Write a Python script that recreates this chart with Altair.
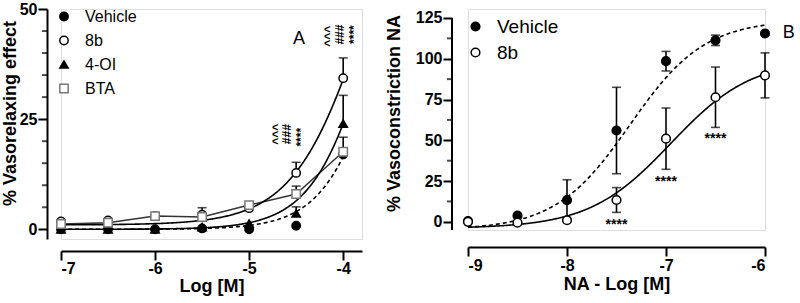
import altair as alt
import pandas as pd

FONT = "Liberation Sans"

# ---------------- Panel A data ----------------
X_A = [-7, -6.5, -6, -5.5, -5, -4.5, -4]
SERIES_A = ["Vehicle", "8b", "4-OI", "BTA"]
VEH_A = [0.0, 0.0, 0.0, 0.2, 0.0, 0.8, 17.0]
VEH_A_ERR = [0, 0, 0, 0, 0, 0, 0]
B8_A = [1.8, 2.0, 3.0, 3.3, 4.8, 12.8, 34.3]
B8_A_ERR = [0, 0, 0, 1.6, 0, 2.4, 4.6]
OI_A = [0.0, 0.0, 0.0, 0.5, 1.3, 3.6, 24.0]
OI_A_ERR = [0, 0, 0, 0, 0, 1.5, 6.4]
BTA_A = [1.2, 1.5, 3.0, 2.8, 5.5, 8.0, 17.6]
BTA_A_ERR = [0, 0, 0, 0, 0, 1.8, 3.3]

# fitted curve parameters (bottom, top, logEC50, hill)
FIT_A = {
    "Vehicle": (0.0, 100.0, -3.478, 1.35),
    "8b": (1.0, 100.0, -3.731, 1.118),
    "4-OI": (0.0, 100.0, -3.619, 1.316),
}
DASH_A = {"Vehicle": [4, 3], "8b": [1, 0], "4-OI": [1, 0]}

ANN_A_X = [-4.70, -4.60, -4.45, -4.15, -4.03, -3.88]
ANN_A_Y = [21.6, 21.6, 20.9, 43.8, 44.2, 44.2]
ANN_A_TEXT = ["^^^", "###", "****", "^^^", "###", "****"]

MAJOR_A = [0, 25, 50]
MINOR_A = [5, 10, 15, 20, 30, 35, 40, 45]
XTICKS_A = [-7, -6, -5, -4]

# ---------------- Panel B data ----------------
X_B = [-9, -8.5, -8, -7.5, -7, -6.5, -6]
SERIES_B = ["Vehicle", "8b"]
VEH_B = [0.5, 3.8, 13.3, 56.0, 98.5, 111.3, 115.5]
VEH_B_ERR = [0, 0, 12.5, 26.5, 6.0, 3.2, 0]
B8_B = [0.0, -0.5, 1.0, 13.4, 51.0, 76.4, 89.8]
B8_B_ERR = [0, 0, 0, 7.6, 18.8, 18.5, 13.8]

FIT_B = {
    "Vehicle": (-5.0, 124.0, -7.364, 1.152),
    "8b": (-4.0, 100.0, -6.953, 1.054),
}
DASH_B = {"Vehicle": [4, 3], "8b": [1, 0]}

ANN_B_X = [-7.5, -7.0, -6.5]
ANN_B_Y = [-2.0, 24.5, 51.0]
ANN_B_TEXT = ["****", "****", "****"]

MAJOR_B = [0, 25, 50, 75, 100, 125]
MINOR_B = [12.5, 37.5, 62.5, 87.5, 112.5]
XTICKS_B = [-9, -8, -7, -6]


def build_df(xs, series, values, errs):
    rows = []
    for name, vals, es in zip(series, values, errs):
        for x, v, e in zip(xs, vals, es):
            rows.append({"x": x, "y": v, "lo": v - e, "hi": v + e, "err": e, "s": name})
    return pd.DataFrame(rows)


def curve_layer(xmin, xmax, params, dash, xsc, ysc):
    b, t, ec, h = params
    return (
        alt.Chart(alt.sequence(xmin, xmax + 0.001, 0.02, as_="x"))
        .transform_calculate(y=f"{b} + ({t} - {b}) / (1 + pow(10, ({ec} - datum.x) * {h}))")
        .mark_line(color="black", strokeWidth=1.6, strokeDash=dash, clip=True)
        .encode(x=alt.X("x:Q", scale=xsc), y=alt.Y("y:Q", scale=ysc))
    )


def minor_ticks(values, axis_offset):
    return alt.Chart(pd.DataFrame({"v": values})).mark_tick(
        color="black", orient="horizontal", size=5, thickness=2
    ).encode(x=alt.value(-axis_offset - 2.5), y="v:Q")


axis_common = dict(
    domainColor="black", domainWidth=2, tickColor="black", tickWidth=2, tickSize=9,
    labelFont=FONT, labelFontSize=16, labelFontWeight="bold", labelColor="black",
    titleFont=FONT, titleFontSize=18, titleFontWeight="bold", titleColor="black",
    grid=False,
)

# ---------------- Panel A ----------------
dfA = build_df(X_A, SERIES_A, [VEH_A, B8_A, OI_A, BTA_A], [VEH_A_ERR, B8_A_ERR, OI_A_ERR, BTA_A_ERR])
xA = alt.Scale(domain=[-7, -3.8], nice=False, zero=False)
yA = alt.Scale(domain=[-2.2, 50], nice=False, zero=False)

xaxisA = alt.Axis(values=XTICKS_A, title="Log [M]", offset=12,
                  labelPadding=0, titlePadding=1, labelExpr="'' + datum.value", **axis_common)
yaxisA = alt.Axis(values=MAJOR_A, title="% Vasorelaxing effect", offset=14,
                  labelExpr="'' + datum.value",
                  labelPadding=1, titlePadding=0, titleY=104, **axis_common)

baseA = alt.Chart(dfA)
layersA = []
for name in ["Vehicle", "8b", "4-OI"]:
    layersA.append(curve_layer(-7, -4, FIT_A[name], DASH_A[name], xA, yA))

bta_line = baseA.transform_filter("datum.s == 'BTA'").mark_line(color="#333333", strokeWidth=1.5).encode(
    x=alt.X("x:Q", scale=xA, axis=xaxisA), y=alt.Y("y:Q", scale=yA, axis=yaxisA))
errA = baseA.transform_filter("datum.err > 0").mark_rule(color="black", strokeWidth=1.6).encode(
    x="x:Q", y="y:Q", y2="hi:Q")
capA = baseA.transform_filter("datum.err > 0").mark_tick(color="black", orient="horizontal",
                                                          size=9, thickness=1.6).encode(x="x:Q", y="hi:Q")

legA = alt.Legend(title=None, orient="none", legendX=-5, legendY=-0.5, labelFont=FONT, labelFontSize=16,
                  labelColor="black", symbolSize=70, symbolStrokeWidth=1.5, rowPadding=8,
                  labelOffset=13, padding=0)
pointsA = baseA.mark_point(opacity=1, size=70, strokeWidth=1.5).encode(
    x="x:Q", y="y:Q",
    shape=alt.Shape("s:N", scale=alt.Scale(domain=SERIES_A, range=["circle", "circle", "triangle-up", "square"]), legend=legA),
    fill=alt.Fill("s:N", scale=alt.Scale(domain=SERIES_A, range=["black", "white", "black", "white"]), legend=legA),
    stroke=alt.Stroke("s:N", scale=alt.Scale(domain=SERIES_A, range=["black", "black", "black", "#777777"]), legend=legA),
)

annA = alt.Chart(pd.DataFrame({"x": ANN_A_X, "y": ANN_A_Y, "t": ANN_A_TEXT})).mark_text(
    angle=270, font=FONT, fontSize=12, fontWeight="bold", color="black", align="center", baseline="middle"
).encode(x="x:Q", y="y:Q", text="t:N")

labelA = alt.Chart(pd.DataFrame({"x": [-4.47], "y": [43.2], "t": ["A"]})).mark_text(
    font=FONT, fontSize=18, color="black", align="center", baseline="middle"
).encode(x="x:Q", y="y:Q", text="t:N")

panelA = alt.layer(bta_line, *layersA, minor_ticks(MINOR_A, 14), errA, capA, pointsA, annA, labelA).properties(
    width=301, height=230)

# ---------------- Panel B ----------------
dfB = build_df(X_B, SERIES_B, [VEH_B, B8_B], [VEH_B_ERR, B8_B_ERR])
xB = alt.Scale(domain=[-9, -6], nice=False, zero=False)
yB = alt.Scale(domain=[-5, 130.5], nice=False, zero=False)

xaxisB = alt.Axis(values=XTICKS_B, title="NA - Log [M]", offset=17,
                  labelPadding=1, titlePadding=2, labelExpr="'' + datum.value", **axis_common)
yaxisB = alt.Axis(values=MAJOR_B, title="% Vasoconstriction NA", offset=16, domain=False,
                  labelExpr="'' + datum.value",
                  labelPadding=1, titlePadding=12, titleY=104, **axis_common)

baseB = alt.Chart(dfB)
layersB = [curve_layer(-9, -6, FIT_B[n], DASH_B[n], xB, yB) for n in SERIES_B]
layersB[0] = layersB[0].encode(x=alt.X("x:Q", scale=xB, axis=xaxisB), y=alt.Y("y:Q", scale=yB, axis=yaxisB))

# y-axis line of panel B, drawn only over the labelled range
axis_lineB = alt.Chart(pd.DataFrame({"a": [0]})).mark_rule(color="black", strokeWidth=2).encode(
    x=alt.value(-16), y=alt.datum(-5), y2=alt.datum(125))

errB = baseB.transform_filter("datum.err > 0").mark_rule(color="black", strokeWidth=1.6).encode(
    x="x:Q", y="lo:Q", y2="hi:Q")
capBhi = baseB.transform_filter("datum.err > 0").mark_tick(color="black", orient="horizontal",
                                                            size=9, thickness=1.6).encode(x="x:Q", y="hi:Q")
capBlo = baseB.transform_filter("datum.err > 0").mark_tick(color="black", orient="horizontal",
                                                            size=9, thickness=1.6).encode(x="x:Q", y="lo:Q")
legB = alt.Legend(title=None, orient="none", legendX=-2, legendY=8, labelFont=FONT, labelFontSize=19,
                  labelColor="black", symbolSize=75, symbolStrokeWidth=1.5, rowPadding=6,
                  labelOffset=12, padding=0)
pointsB = baseB.mark_point(opacity=1, size=75, strokeWidth=1.5).encode(
    x="x:Q", y="y:Q",
    shape=alt.Shape("s:N", scale=alt.Scale(domain=SERIES_B, range=["circle", "circle"]), legend=legB),
    fill=alt.Fill("s:N", scale=alt.Scale(domain=SERIES_B, range=["black", "white"]), legend=legB),
    stroke=alt.Stroke("s:N", scale=alt.Scale(domain=SERIES_B, range=["black", "black"]), legend=legB),
)
annB = alt.Chart(pd.DataFrame({"x": ANN_B_X, "y": ANN_B_Y, "t": ANN_B_TEXT})).mark_text(
    font=FONT, fontSize=14, fontWeight="bold", color="black", align="center", baseline="middle"
).encode(x="x:Q", y="y:Q", text="t:N")
labelB = alt.Chart(pd.DataFrame({"x": [-5.76], "y": [116.0], "t": ["B"]})).mark_text(
    font=FONT, fontSize=18, color="black", align="center", baseline="middle"
).encode(x="x:Q", y="y:Q", text="t:N")

panelB = alt.layer(*layersB, axis_lineB, minor_ticks(MINOR_B, 16), errB, capBhi, capBlo, pointsB, annB,
                   labelB).properties(width=297, height=221)

chart = (
    alt.hconcat(panelA, panelB, spacing=21)
    .resolve_scale(shape="independent", fill="independent", stroke="independent")
    .resolve_legend(shape="independent", fill="independent", stroke="independent")
    .configure_view(stroke=None)
    .configure(font=FONT)
    .properties(padding={"left": 0, "top": 0, "right": 0, "bottom": 0}, background="white")
)

chart.save("out.html", embed_options={"renderer": "svg", "actions": False})
